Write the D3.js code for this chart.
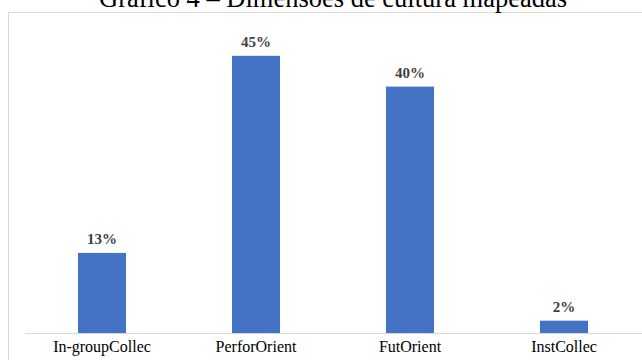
<!DOCTYPE html>
<html>
<head>
<meta charset="utf-8">
<script src="https://cdn.jsdelivr.net/npm/d3@7"></script>
<style>
  html, body { margin: 0; padding: 0; background: #ffffff; }
  svg { display: block; }
</style>
</head>
<body>
<svg id="chart" width="642" height="360"></svg>
<script>
// Cultural dimensions and their share of mentions (%)
const categories = ["In-groupCollec", "PerforOrient", "FutOrient", "InstCollec"];
const values = [13, 45, 40, 2];
const chartTitle = "Gráfico 4 – Dimensões de cultura mapeadas";

const svg = d3.select("#chart");
const W = 642, H = 360;
const serif = "'Liberation Serif', 'Times New Roman', serif";

// Chart area frame
svg.append("rect")
  .attr("x", 8.5).attr("y", 12.5)
  .attr("width", W + 10).attr("height", H + 10)
  .attr("fill", "#ffffff")
  .attr("stroke", "#d9d9d9").attr("stroke-width", 1);

// Title (partly above the frame)
svg.append("text")
  .attr("x", 333).attr("y", 7)
  .attr("text-anchor", "middle")
  .attr("font-family", serif)
  .attr("font-size", 26.5)
  .attr("fill", "#000000")
  .text(chartTitle);

const x = d3.scaleBand()
  .domain(categories)
  .range([25, 641])
  .paddingInner(0.688)
  .paddingOuter(0.344);

const y = d3.scaleLinear()
  .domain([0, 50])
  .range([333, 25]);

// Bars
svg.append("g").selectAll("rect")
  .data(values)
  .join("rect")
  .attr("x", (d, i) => x(categories[i]))
  .attr("y", d => y(d))
  .attr("width", x.bandwidth())
  .attr("height", d => y(0) - y(d))
  .attr("fill", "#4472c4");

// Value labels
svg.append("g").selectAll("text")
  .data(values)
  .join("text")
  .attr("x", (d, i) => x(categories[i]) + x.bandwidth() / 2)
  .attr("y", d => y(d) - 9)
  .attr("text-anchor", "middle")
  .attr("font-family", serif)
  .attr("font-weight", "bold")
  .attr("font-size", 15)
  .attr("fill", "#404040")
  .text(d => d + "%");

// Category axis
const axis = svg.append("g")
  .attr("transform", `translate(0,${y(0)})`)
  .call(d3.axisBottom(x).tickSize(0).tickPadding(8));
axis.select(".domain")
  .attr("stroke", "#d9d9d9")
  .attr("d", `M25,0.5H${W}`);
axis.selectAll("text")
  .attr("font-family", serif)
  .attr("font-size", 16)
  .attr("fill", "#000000");
</script>
</body>
</html>
